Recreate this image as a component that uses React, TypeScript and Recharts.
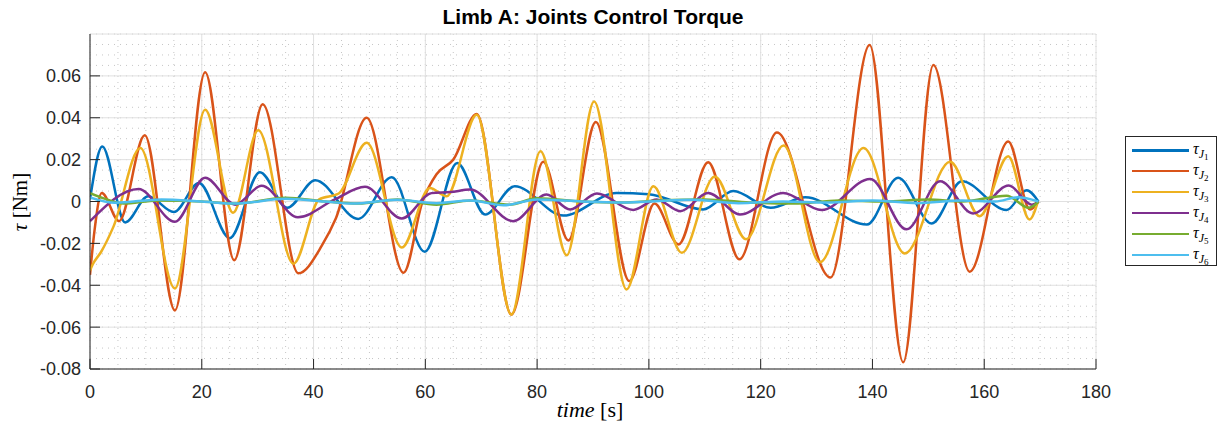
import React from 'react';
import { LineChart, Line, XAxis, YAxis, CartesianGrid } from 'recharts';

// time stamps [s] and torques [Nm] (extrema + a few shape points)
const tJ1 = [0, 2.2, 6.3, 10.4, 15, 19.5, 25, 30.4, 35.3, 40.3, 48, 54, 59.9, 65.7, 70.7, 76, 84.7, 94.2, 100, 109.7, 115.1, 121.8, 128, 139, 144.6, 150.6, 156, 164, 167.6, 169.7];
const vJ1 = [0.001, 0.0263, -0.01, 0.0025, -0.005, 0.0088, -0.0175, 0.014, -0.003, 0.0102, -0.0083, 0.0116, -0.024, 0.0184, -0.0062, 0.0073, -0.0067, 0.004, 0.0035, -0.0038, 0.005, -0.003, 0.002, -0.011, 0.0113, -0.0105, 0.0097, -0.0041, 0.0054, 0];

const tJ2 = [0, 0.8, 2.1, 5.2, 9.8, 15.2, 20.6, 25.8, 30.9, 37.3, 41.5, 44, 49.5, 56.1, 59.5, 62, 65, 69.2, 75.4, 81.1, 85.6, 90.5, 96.5, 101, 105.3, 110.6, 116.2, 122.9, 132.5, 139.5, 145.5, 150.9, 157.4, 164.3, 168.2, 169.7];
const vJ2 = [-0.035, -0.014, 0.0041, -0.0094, 0.0316, -0.052, 0.0617, -0.028, 0.0465, -0.0343, -0.021, -0.008, 0.04, -0.034, 0.0, 0.013, 0.02, 0.0418, -0.054, 0.019, -0.0186, 0.038, -0.038, -0.001, -0.0205, 0.0187, -0.0276, 0.033, -0.0363, 0.0748, -0.0768, 0.0652, -0.0335, 0.0287, -0.0038, 0];

const tJ3 = [0, 0.5, 2, 4.2, 9, 15.2, 20.6, 25.6, 30.1, 36.4, 41, 44.5, 49.5, 55.8, 60.8, 63.8, 69.2, 75.4, 80.6, 85.3, 90.2, 96, 100.8, 105.9, 111.8, 117.4, 124.1, 130.6, 138.4, 145.8, 153.9, 159.2, 164.3, 168.1, 169.6];
const vJ3 = [-0.033, -0.03, -0.024, -0.012, 0.0255, -0.0415, 0.0438, -0.0054, 0.034, -0.0297, 0.001, 0.0038, 0.028, -0.022, 0.0065, 0.0025, 0.0414, -0.054, 0.024, -0.0257, 0.0478, -0.042, 0.0073, -0.0245, 0.012, -0.018, 0.0267, -0.029, 0.0255, -0.0248, 0.019, -0.007, 0.0216, -0.0086, 0];

const tJ4 = [0, 8.7, 15.2, 20.6, 26, 30.7, 37.2, 43.8, 49.2, 55.8, 61.1, 64.5, 68, 75.7, 81.7, 85.9, 90.7, 97.2, 101.4, 105.6, 110.6, 116.3, 124, 130.9, 139.6, 146.1, 152.1, 158, 164.4, 168.5, 169.7];
const vJ4 = [-0.0094, 0.006, -0.0097, 0.0113, -0.0015, 0.0075, -0.0075, 0.001, 0.007, -0.0081, 0.004, 0.0045, 0.0057, -0.0094, 0.0033, -0.0038, 0.0038, -0.004, 0.001, -0.0046, 0.0041, -0.0062, 0.0041, -0.0041, 0.0108, -0.0133, 0.0097, -0.0057, 0.0076, -0.0015, 0];

const tJ5 = [0, 3, 6, 12, 20, 26, 35, 42, 48, 55, 62, 68, 75, 80, 88, 95, 102, 110, 118, 126, 134, 142, 150, 156, 164, 168, 169.7];
const vJ5 = [0.004, 0.001, -0.001, 0.0005, 0.0, -0.001, 0.0018, 0.0, -0.001, 0.001, -0.0015, 0.0005, -0.0015, 0.0015, 0.0, -0.0005, 0.0005, 0.001, -0.0005, -0.001, 0.0005, 0.0, 0.001, 0.0, 0.0028, -0.003, 0];

const tJ6 = [0, 4.5, 12.8, 20, 26, 35, 42, 47, 55, 62, 68, 74, 80, 88, 95, 100, 108, 116, 124, 132, 140, 148, 156, 162, 166, 169.7];
const vJ6 = [0.002, -0.0006, 0.001, 0.0, -0.001, 0.0013, 0.0, -0.001, 0.0008, -0.0008, 0.0005, -0.0018, 0.001, 0.0, -0.0005, 0.0, 0.0008, -0.0008, 0.0, -0.0005, 0.0005, -0.0008, 0.0005, 0.0, 0.002, 0];

const seriesNames = ['1', '2', '3', '4', '5', '6'];
const seriesColors = ['#0072BD', '#D95319', '#EDB120', '#7E2F8E', '#77AC30', '#4DBEEE'];
const xTicks = [0, 20, 40, 60, 80, 100, 120, 140, 160, 180];
const yTicks = [-0.08, -0.06, -0.04, -0.02, 0, 0.02, 0.04, 0.06];

const zip = (t: number[], v: number[]) => t.map((x, i) => ({ t: x, v: v[i] }));
const series = [zip(tJ1, vJ1), zip(tJ2, vJ2), zip(tJ3, vJ3), zip(tJ4, vJ4), zip(tJ5, vJ5), zip(tJ6, vJ6)];

// minor grid every 5 s / 0.005 Nm
const minorX: number[] = [];
for (let i = 0; i <= 36; i++) minorX.push(i * 5);
const minorY: number[] = [];
for (let i = -16; i <= 16; i++) minorY.push(+(i * 0.005).toFixed(3));

const AXIS = '#262626';
const tickFont = { fill: AXIS, fontSize: 18, fontFamily: 'Liberation Sans, Arial, sans-serif' };
const fmtY = (v: number) => (v === 0 ? '0' : v.toFixed(2));

function LegendBox() {
  return (
    <div style={{ position: 'absolute', left: 1125, top: 136, width: 92, height: 130, border: '1px solid ' + AXIS, background: '#fff', boxSizing: 'border-box' }}>
      {seriesNames.map((n, i) => (
        <div key={n} style={{ position: 'absolute', left: 0, top: 3 + i * 20.9, height: 20, width: '100%' }}>
          <div style={{ position: 'absolute', left: 6, top: 9, width: 57, height: 2.5, background: seriesColors[i] }} />
          <span style={{ position: 'absolute', left: 67, top: 0, fontFamily: 'Liberation Serif, serif', fontStyle: 'italic', fontSize: 16, color: '#000', whiteSpace: 'nowrap', lineHeight: '18px' }}>
            τ
            <span style={{ fontSize: 12, position: 'relative', top: 4 }}>
              J<span style={{ fontSize: 9, fontStyle: 'normal', position: 'relative', top: 2 }}>{n}</span>
            </span>
          </span>
        </div>
      ))}
    </div>
  );
}

export default function App() {
  return (
    <div style={{ position: 'fixed', left: 0, top: 0, width: 1225, height: 429, background: '#fff' }}>
      <div style={{ position: 'absolute', left: 0, width: 1186, top: 5, textAlign: 'center', fontFamily: 'Liberation Sans, Arial, sans-serif', fontWeight: 'bold', fontSize: 21, color: '#000' }}>
        Limb A: Joints Control Torque
      </div>
      <LineChart width={1225} height={429} data={series[0]} margin={{ top: 34, right: 129, bottom: 30, left: 30 }}>
        <CartesianGrid stroke="#c6c6c6" strokeDasharray="1 5" verticalValues={minorX} horizontalValues={minorY} />
        <CartesianGrid stroke="#e0e0e0" />
        <XAxis dataKey="t" type="number" domain={[0, 180]} ticks={xTicks} interval={0} allowDataOverflow height={30}
          tickSize={-10} tickMargin={26} stroke={AXIS} tick={tickFont} />
        <YAxis type="number" domain={[-0.08, 0.08]} ticks={yTicks} interval={0} allowDataOverflow width={60}
          tickSize={-10} tickMargin={19} stroke={AXIS} tick={tickFont} tickFormatter={fmtY} />
        <XAxis xAxisId="top" orientation="top" dataKey="t" type="number" domain={[0, 180]} ticks={xTicks} height={0}
          tickSize={-10} stroke={AXIS} tick={false} />
        <YAxis yAxisId="right" orientation="right" type="number" domain={[-0.08, 0.08]} ticks={[...yTicks, 0.08]} width={0}
          tickSize={-10} stroke={AXIS} tick={false} />
        {series.map((d, i) => (
          <Line key={i} data={d} dataKey="v" type="monotone" stroke={seriesColors[i]} strokeWidth={2.5}
            dot={false} activeDot={false} isAnimationActive={false} />
        ))}
      </LineChart>
      <div style={{ position: 'absolute', left: 20, top: 202, transform: 'translate(-50%, -50%) rotate(-90deg)', fontFamily: 'Liberation Serif, serif', fontSize: 21, color: '#000', whiteSpace: 'nowrap' }}>
        <i>τ</i> [Nm]
      </div>
      <div style={{ position: 'absolute', left: 590, top: 410, transform: 'translate(-50%, -50%)', fontFamily: 'Liberation Serif, serif', fontSize: 22, color: '#000', whiteSpace: 'nowrap' }}>
        <i>time</i> [s]
      </div>
      <LegendBox />
    </div>
  );
}
